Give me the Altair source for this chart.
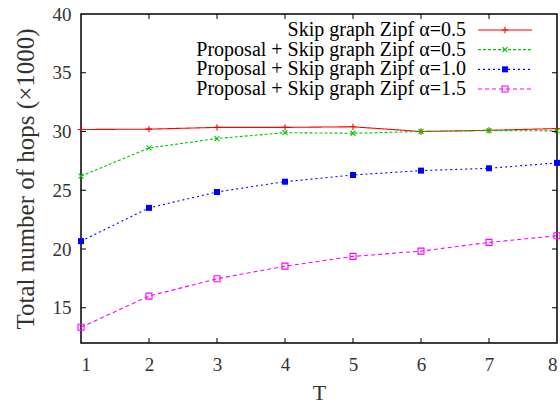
import altair as alt
import pandas as pd

T = [1, 2, 3, 4, 5, 6, 7, 8]
series = [
    "Skip graph Zipf \u03b1=0.5",
    "Proposal + Skip graph Zipf \u03b1=0.5",
    "Proposal + Skip graph Zipf \u03b1=1.0",
    "Proposal + Skip graph Zipf \u03b1=1.5",
]
skip_05 = [30.17, 30.2, 30.35, 30.35, 30.4, 30.0, 30.1, 30.25]
prop_05 = [26.2, 28.6, 29.4, 29.9, 29.85, 30.0, 30.08, 30.05]
prop_10 = [20.67, 23.5, 24.85, 25.73, 26.3, 26.67, 26.87, 27.33]
prop_15 = [13.34, 15.99, 17.47, 18.54, 19.37, 19.82, 20.56, 21.13]
x_ticks = [1, 2, 3, 4, 5, 6, 7, 8]
y_ticks = [15, 20, 25, 30, 35, 40]

colors = ["#ff0000", "#00c800", "#0000ff", "#ff00ff"]
dashes = [[1, 0], [3, 2], [2, 3], [4, 3]]
shapes = ["cross", "cross", "square", "square"]
filled = [True, True, True, False]
angles = [45, 0, 0, 0]

W, H = 476, 329
FONT = "Liberation Serif"

rows = []
for name, vals in zip(series, [skip_05, prop_05, prop_10, prop_15]):
    for t, v in zip(T, vals):
        rows.append({"T": t, "hops": v, "series": name})
df = pd.DataFrame(rows)

xs = alt.Scale(domain=[1, 8], nice=False)
ys = alt.Scale(domain=[12, 40], nice=False, zero=False)

layers = []
for i, name in enumerate(series):
    d = df[df.series == name]
    base = alt.Chart(d).encode(
        x=alt.X("T:Q", scale=xs, title="T",
                axis=alt.Axis(values=x_ticks, format="d", tickSize=0, labelPadding=12,
                              grid=False, domain=False, titlePadding=8)),
        y=alt.Y("hops:Q", scale=ys, title="Total number of hops (\u00d71000)",
                axis=alt.Axis(values=y_ticks, tickSize=0, labelPadding=10,
                              grid=False, domain=False, titlePadding=14)),
    )
    layers.append(base.mark_line(color=colors[i], strokeWidth=1.1, strokeDash=dashes[i]))
    pt_kwargs = dict(shape=shapes[i], size=36 if shapes[i] == "square" else 40,
                     color=colors[i], filled=filled[i], strokeWidth=1.1, opacity=1)
    if shapes[i] == "cross":
        pt_kwargs["angle"] = angles[i]
        pt_kwargs["size"] = 30
    if name == series[0]:
        pt_kwargs["shape"] = "M-1,0L1,0M0,-1L0,1"
        pt_kwargs["filled"] = False
        pt_kwargs["size"] = 40
        pt_kwargs.pop("angle", None)
    if name == series[1]:
        pt_kwargs["shape"] = "M-1,-1L1,1M-1,1L1,-1"
        pt_kwargs["filled"] = False
        pt_kwargs["size"] = 25
        pt_kwargs.pop("angle", None)
    layers.append(base.mark_point(**pt_kwargs))

# inward ticks
xt = pd.DataFrame({"T": x_ticks[1:-1]})
yt = pd.DataFrame({"hops": y_ticks[:-1]})
tick_color = "#000000"
layers.append(alt.Chart(xt).mark_rule(color=tick_color, strokeWidth=1).encode(
    x=alt.X("T:Q", scale=xs), y=alt.value(H), y2=alt.value(H - 5)))
layers.append(alt.Chart(xt).mark_rule(color=tick_color, strokeWidth=1).encode(
    x=alt.X("T:Q", scale=xs), y=alt.value(0), y2=alt.value(5)))
layers.append(alt.Chart(yt).mark_rule(color=tick_color, strokeWidth=1).encode(
    y=alt.Y("hops:Q", scale=ys), x=alt.value(0), x2=alt.value(5)))
layers.append(alt.Chart(yt).mark_rule(color=tick_color, strokeWidth=1).encode(
    y=alt.Y("hops:Q", scale=ys), x=alt.value(W), x2=alt.value(W - 5)))

main = alt.layer(*layers)

# legend (gnuplot style: right-aligned text, sample to the right)
leg = pd.DataFrame({"series": series, "row": [0, 1, 2, 3]})
ly = alt.Y("row:Q", scale=alt.Scale(domain=[0, 3], range=[16, 75]), axis=None)
leg_layers = [alt.Chart(leg).mark_text(align="right", baseline="middle", font=FONT,
                                       fontSize=20, color="#000000").encode(
    x=alt.value(385), y=ly, text="series:N")]
for i, name in enumerate(series):
    dl = leg[leg.series == name]
    leg_layers.append(alt.Chart(dl).mark_rule(color=colors[i], strokeWidth=1.1,
                                              strokeDash=dashes[i]).encode(
        x=alt.value(397), x2=alt.value(451), y=ly))
    shp = ["M-1,0L1,0M0,-1L0,1", "M-1,-1L1,1M-1,1L1,-1", "square", "square"][i]
    sz = [40, 25, 36, 36][i]
    leg_layers.append(alt.Chart(dl).mark_point(shape=shp, size=sz, color=colors[i],
                                               filled=filled[i] and i >= 2,
                                               strokeWidth=1.1, opacity=1).encode(
        x=alt.value(424), y=ly))
legend = alt.layer(*leg_layers)

chart = alt.layer(main, legend).resolve_scale(y="independent").properties(
    width=W, height=H,
    padding={"left": 81, "top": 14, "right": 3, "bottom": 72},
    autosize=alt.AutoSizeParams(type="none"),
).configure_view(stroke="#000000", strokeWidth=1.5).configure_axis(
    labelFont=FONT, titleFont=FONT, labelFontSize=19, labelColor="#333333",
    titleColor="#333333", titleFontWeight="normal",
).configure_axisY(titleFontSize=25).configure_axisX(titleFontSize=22)

chart.save("out.html", embed_options={"renderer": "svg", "actions": False})
